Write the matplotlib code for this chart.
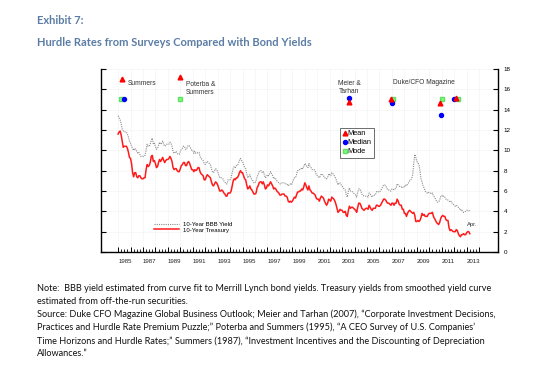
import numpy as np
import pandas as pd
import matplotlib
matplotlib.use("Agg")
import matplotlib.pyplot as plt
import matplotlib.transforms as mtransforms

# monthly yields, Jan 1985 - Apr 2013
ust10 = [
    11.6, 11.8, 11.9, 11.5, 10.9, 10.3, 10.4, 10.4, 10.4, 10.2, 9.8, 9.3,
    9.2, 8.7, 7.8, 7.4, 7.8, 7.8, 7.4, 7.3, 7.5, 7.5, 7.3, 7.2,
    7.2, 7.3, 7.3, 8.1, 8.6, 8.4, 8.5, 8.8, 9.4, 9.5, 8.9, 9.0,
    8.7, 8.3, 8.4, 8.8, 9.1, 8.9, 9.1, 9.3, 9.0, 8.8, 9.0, 9.1,
    9.1, 9.2, 9.4, 9.2, 8.9, 8.3, 8.1, 8.2, 8.2, 8.0, 7.9, 7.9,
    8.2, 8.5, 8.6, 8.8, 8.8, 8.5, 8.5, 8.8, 8.9, 8.7, 8.4, 8.1,
    8.1, 7.9, 8.1, 8.0, 8.1, 8.3, 8.3, 7.9, 7.7, 7.6, 7.5, 7.1,
    7.1, 7.4, 7.6, 7.5, 7.4, 7.3, 6.9, 6.6, 6.5, 6.7, 6.9, 6.8,
    6.6, 6.3, 6.0, 6.0, 6.1, 6.0, 5.8, 5.7, 5.5, 5.5, 5.8, 5.8,
    5.8, 6.0, 6.5, 7.0, 7.2, 7.1, 7.3, 7.3, 7.5, 7.8, 8.0, 7.8,
    7.8, 7.5, 7.2, 7.1, 6.6, 6.2, 6.3, 6.5, 6.2, 6.1, 5.9, 5.7,
    5.7, 5.8, 6.3, 6.5, 6.8, 6.9, 6.9, 6.7, 6.9, 6.6, 6.2, 6.3,
    6.6, 6.5, 6.7, 6.9, 6.7, 6.5, 6.2, 6.3, 6.2, 6.0, 5.9, 5.8,
    5.6, 5.6, 5.7, 5.7, 5.7, 5.5, 5.5, 5.4, 5.0, 4.9, 5.0, 4.9,
    5.0, 5.2, 5.4, 5.3, 5.6, 5.9, 5.9, 6.0, 6.0, 6.2, 6.1, 6.4,
    6.8, 6.6, 6.3, 6.1, 6.5, 6.1, 6.0, 5.8, 5.8, 5.7, 5.6, 5.3,
    5.2, 5.2, 5.0, 5.3, 5.5, 5.4, 5.3, 5.0, 4.8, 4.6, 4.8, 5.2,
    5.1, 5.0, 5.4, 5.3, 5.2, 5.0, 4.7, 4.3, 3.9, 4.0, 4.2, 4.1,
    4.1, 3.9, 3.9, 4.0, 3.6, 3.5, 4.1, 4.5, 4.3, 4.4, 4.4, 4.3,
    4.2, 4.1, 3.9, 4.4, 4.8, 4.8, 4.6, 4.3, 4.2, 4.1, 4.2, 4.3,
    4.3, 4.2, 4.6, 4.4, 4.2, 4.1, 4.3, 4.3, 4.3, 4.6, 4.6, 4.5,
    4.5, 4.6, 4.8, 5.0, 5.2, 5.2, 5.1, 4.9, 4.8, 4.8, 4.7, 4.6,
    4.8, 4.8, 4.6, 4.8, 4.8, 5.2, 5.0, 4.7, 4.6, 4.6, 4.2, 4.2,
    3.8, 3.8, 3.5, 3.8, 4.0, 4.1, 4.0, 3.9, 3.8, 3.9, 3.6, 3.0,
    3.0, 3.1, 3.0, 3.1, 3.4, 3.8, 3.6, 3.7, 3.5, 3.5, 3.5, 3.7,
    3.8, 3.8, 3.8, 3.9, 3.5, 3.3, 3.1, 2.9, 2.8, 2.7, 2.9, 3.3,
    3.5, 3.6, 3.5, 3.5, 3.2, 3.1, 3.1, 2.4, 2.1, 2.2, 2.1, 2.0,
    2.0, 2.0, 2.2, 2.1, 1.8, 1.6, 1.5, 1.7, 1.7, 1.8, 1.7, 1.7,
    1.9, 2.0, 2.0, 1.8,
]

bbb10 = [
    13.4, 13.2, 13.0, 12.6, 12.1, 11.9, 11.9, 11.8, 11.8, 11.6, 11.3, 10.9,
    10.7, 10.4, 10.2, 10.0, 10.2, 10.1, 9.9, 9.7, 9.8, 9.6, 9.4, 9.4,
    9.4, 9.5, 9.5, 10.0, 10.6, 10.4, 10.4, 10.6, 11.0, 11.2, 10.6, 10.7,
    10.4, 10.1, 10.2, 10.5, 10.8, 10.6, 10.7, 10.9, 10.6, 10.4, 10.5, 10.6,
    10.6, 10.6, 10.8, 10.7, 10.4, 9.9, 9.7, 9.8, 9.9, 9.7, 9.6, 9.6,
    9.9, 10.1, 10.2, 10.4, 10.4, 10.1, 10.1, 10.4, 10.5, 10.4, 10.2, 10.0,
    10.0, 9.7, 9.9, 9.7, 9.7, 9.8, 9.8, 9.4, 9.2, 9.1, 9.0, 8.7,
    8.6, 8.8, 8.9, 8.8, 8.7, 8.6, 8.2, 7.9, 7.8, 8.0, 8.2, 8.1,
    7.9, 7.6, 7.3, 7.3, 7.3, 7.2, 7.0, 6.9, 6.7, 6.7, 7.1, 7.1,
    7.1, 7.3, 7.8, 8.2, 8.4, 8.3, 8.5, 8.5, 8.7, 9.0, 9.2, 9.0,
    8.9, 8.6, 8.3, 8.2, 7.7, 7.3, 7.4, 7.6, 7.3, 7.1, 7.0, 6.8,
    6.8, 7.0, 7.4, 7.6, 7.9, 8.0, 8.0, 7.8, 7.9, 7.6, 7.3, 7.4,
    7.6, 7.5, 7.7, 7.9, 7.7, 7.5, 7.2, 7.3, 7.2, 7.0, 6.9, 6.8,
    6.7, 6.7, 6.8, 6.8, 6.8, 6.7, 6.7, 6.7, 6.5, 6.6, 6.7, 6.6,
    6.8, 7.1, 7.3, 7.3, 7.6, 8.0, 8.0, 8.1, 8.1, 8.3, 8.2, 8.4,
    8.7, 8.6, 8.4, 8.3, 8.7, 8.4, 8.3, 8.1, 8.1, 8.1, 8.0, 7.6,
    7.5, 7.4, 7.3, 7.5, 7.7, 7.6, 7.5, 7.3, 7.3, 7.2, 7.3, 7.7,
    7.6, 7.5, 7.8, 7.7, 7.6, 7.4, 7.2, 6.9, 6.6, 6.8, 6.8, 6.6,
    6.5, 6.3, 6.2, 6.1, 5.6, 5.4, 6.0, 6.3, 6.0, 6.0, 5.9, 5.8,
    5.7, 5.6, 5.4, 5.9, 6.2, 6.2, 6.0, 5.7, 5.6, 5.5, 5.5, 5.5,
    5.5, 5.4, 5.8, 5.7, 5.5, 5.4, 5.6, 5.6, 5.6, 5.9, 6.0, 5.9,
    5.9, 6.0, 6.2, 6.4, 6.6, 6.6, 6.5, 6.3, 6.1, 6.1, 6.0, 6.0,
    6.2, 6.2, 6.1, 6.2, 6.3, 6.7, 6.6, 6.5, 6.4, 6.4, 6.3, 6.4,
    6.4, 6.6, 6.5, 6.7, 6.8, 7.0, 7.1, 7.2, 7.6, 8.7, 9.6, 9.3,
    8.9, 8.8, 8.6, 8.0, 7.2, 6.9, 6.5, 6.3, 6.0, 5.9, 5.8, 5.9,
    5.8, 5.8, 5.7, 5.8, 5.5, 5.4, 5.2, 5.0, 4.9, 4.9, 5.1, 5.5,
    5.5, 5.6, 5.4, 5.4, 5.2, 5.2, 5.1, 5.0, 4.9, 5.0, 4.8, 4.7,
    4.6, 4.5, 4.6, 4.5, 4.4, 4.3, 4.1, 4.2, 4.0, 3.9, 3.9, 4.0,
    4.1, 4.1, 4.1, 4.0,
]

# survey hurdle rates
mean_x = [1985.35, 1989.98, 2003.58, 2006.9, 2010.9, 2012.12]
mean_y = [17.0, 17.2, 14.8, 15.0, 14.7, 15.1]
median_x = [1985.46, 2003.55, 2006.98, 2010.96, 2011.96]
median_y = [15.0, 15.1, 14.7, 13.5, 15.0]
mode_x = [1985.24, 1989.98, 2007.1, 2011.05, 2012.3]
mode_y = [15.0, 15.0, 15.0, 15.0, 15.0]

survey_labels = ["Summers", "Poterba &\nSummers", "Meier &\nTarhan", "Duke/CFO Magazine"]
label_x = [1985.75, 1990.45, 2003.55, 2009.6]
label_y = [16.55, 16.1, 16.2, 16.7]
label_ha = ["left", "left", "center", "center"]

year_labels = list(range(1985, 2014, 2))
y_ticks = list(range(0, 19, 2))

dates = pd.date_range("1985-01-01", periods=len(ust10), freq="MS")
t = dates.year + (dates.month - 1) / 12.0

title_color = "#5b7ca4"
chart_font = "Liberation Sans"

fig = plt.figure(figsize=(5.59, 3.76), dpi=100)
ax = fig.add_axes([0.1807, 0.3298, 0.7102, 0.4867])

ax.plot(t, bbb10, color="#8a8a8a", lw=0.8, ls=(0, (1, 1)), label="10-Year BBB Yield")
ax.plot(t, ust10, color="#ff1a1a", lw=1.1, label="10-Year Treasury")

leg1 = ax.legend(loc="lower left", bbox_to_anchor=(0.125, 0.09), frameon=False,
                 prop={"family": chart_font, "size": 4.3}, handlelength=4.2,
                 labelspacing=0.05, handletextpad=0.8, borderpad=0)
ax.add_artist(leg1)

m1, = ax.plot(mean_x, mean_y, ls="none", marker="^", ms=3.4, color="#ff0000", zorder=5)
m2, = ax.plot(median_x, median_y, ls="none", marker="o", ms=2.9, color="#0000ff", zorder=4)
m3, = ax.plot(mode_x, mode_y, ls="none", marker="s", ms=2.8, color="#80ff80",
              markeredgecolor="#60e060", zorder=3)
leg2 = ax.legend([m1, m2, m3], ["Mean", "Median", "Mode"], loc="upper left",
                 bbox_to_anchor=(0.592, 0.70), prop={"family": chart_font, "size": 5.3},
                 handlelength=0.6, handletextpad=0.1, labelspacing=0.25,
                 borderpad=0.35, fancybox=False, edgecolor="#555555", framealpha=1)
leg2.get_frame().set_linewidth(0.6)

for txt, lx, ly, ha in zip(survey_labels, label_x, label_y, label_ha):
    ax.text(lx, ly, txt, ha=ha, va="center", fontsize=4.8, family=chart_font,
            color="#333333", linespacing=1.1)

ax.text(2013.45, 2.75, "Apr.", fontsize=4.2, family=chart_font, color="#333333",
        ha="center", va="center")

ax.set_xlim(1983.63, 2015.52)
ax.set_ylim(0, 18)

ax.spines["top"].set_visible(False)
for s in ["left", "right", "bottom"]:
    ax.spines[s].set_linewidth(1.0)

ax.set_yticks(y_ticks)
ax.tick_params(axis="y", left=True, right=True, labelleft=False, labelright=True,
               direction="in", length=3.5, width=0.8, labelsize=4.5, pad=4)
for lab in ax.get_yticklabels():
    lab.set_family(chart_font)

ax.set_xticks(np.arange(1985, 2015))
ax.set_xticks(np.arange(1985, 2014.01, 0.25), minor=True)
ax.tick_params(axis="x", which="major", direction="in", length=3.5, width=0.7,
               labelbottom=False)
ax.tick_params(axis="x", which="minor", direction="in", length=2, width=0.6)

trans = mtransforms.blended_transform_factory(ax.transData, ax.transAxes)
for yr in year_labels:
    ax.text(yr + 0.55, -0.05, str(yr), transform=trans, ha="center", va="center",
            fontsize=4.4, family=chart_font, color="#222222")

ax.grid(True, color="#f2f2f2", lw=0.4)
ax.set_axisbelow(True)

fig.text(37 / 559, 1 - 20 / 376, "Exhibit 7:", fontsize=8, fontweight="bold",
         family="Lato", color=title_color, va="center")
fig.text(37 / 559, 1 - 42 / 376, "Hurdle Rates from Surveys Compared with Bond Yields",
         fontsize=8, fontweight="bold", family="Lato", color=title_color, va="center")

note = ("Note:  BBB yield estimated from curve fit to Merrill Lynch bond yields. Treasury yields from smoothed yield curve\n"
        "estimated from off-the-run securities.")
source = ("Source: Duke CFO Magazine Global Business Outlook; Meier and Tarhan (2007), \u201cCorporate Investment Decisions,\n"
          "Practices and Hurdle Rate Premium Puzzle;\u201d Poterba and Summers (1995), \u201cA CEO Survey of U.S. Companies\u2019\n"
          "Time Horizons and Hurdle Rates;\u201d Summers (1987), \u201cInvestment Incentives and the Discounting of Depreciation\n"
          "Allowances.\u201d")
fig.text(37 / 559, 1 - 284 / 376, note, fontsize=6.55, family="Lato", color="#111111",
         va="top", linespacing=1.5)
fig.text(37 / 559, 1 - 309.5 / 376, source, fontsize=6.55, family="Lato", color="#111111",
         va="top", linespacing=1.5)

fig.savefig("out.png", dpi=100)
